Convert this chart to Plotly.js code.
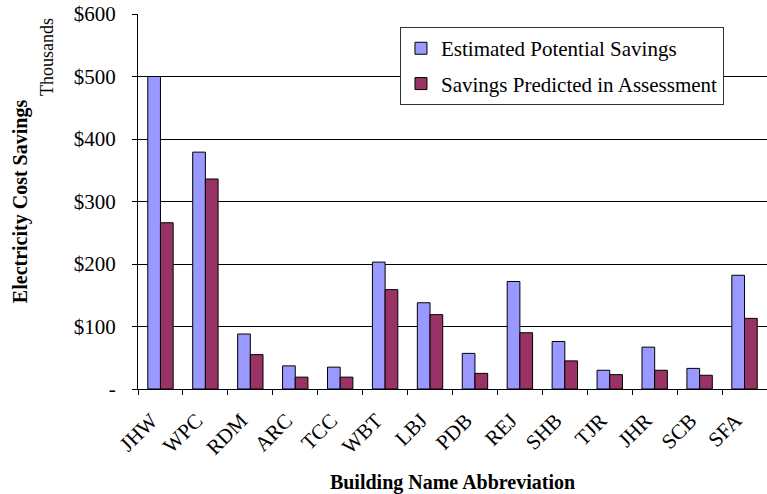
<!DOCTYPE html>
<html>
<head>
<meta charset="utf-8">
<script src="https://cdn.plot.ly/plotly-3.0.1.min.js"></script>
<style>
  html, body { margin: 0; padding: 0; background: #fff; }
  #chart { width: 767px; height: 494px; }
</style>
</head>
<body>
<div id="chart"></div>
<script>
const categories = ['JHW', 'WPC', 'RDM', 'ARC', 'TCC', 'WBT', 'LBJ', 'PDB', 'REJ', 'SHB', 'TJR', 'JHR', 'SCB', 'SFA'];
const estimatedSavings = [500, 379, 88, 37, 35, 203, 138, 57, 172, 76, 30, 67, 33, 182];
const predictedSavings = [266, 336, 55, 19, 19, 159, 119, 25, 90, 45, 23, 30, 22, 113];
const seriesNames = ['Estimated Potential Savings', 'Savings Predicted in Assessment'];
const yTickVals = [0, 100, 200, 300, 400, 500, 600];
const yTickText = ['-', '$100', '$200', '$300', '$400', '$500', '$600'];

const FONT = 'Liberation Serif, Times New Roman, serif';

const traces = [
  {
    type: 'bar', name: seriesNames[0], x: categories, y: estimatedSavings,
    legendgroup: 'a',
    marker: { color: '#9999FF', line: { color: '#000000', width: 1 } }
  },
  {
    type: 'bar', name: seriesNames[1], x: categories, y: predictedSavings,
    legendgroup: 'b',
    marker: { color: '#993366', line: { color: '#000000', width: 1 } }
  }
];

const layout = {
  width: 767, height: 494,
  margin: { l: 138, r: 0, t: 14, b: 105 },
  paper_bgcolor: '#ffffff', plot_bgcolor: '#ffffff',
  font: { family: FONT, size: 21, color: '#000000' },
  barmode: 'group', bargap: 0.435, bargroupgap: 0,
  showlegend: true,
  legend: {
    x: 0.4165, y: 0.965, xanchor: 'left', yanchor: 'top',
    bgcolor: '#ffffff', bordercolor: '#333333', borderwidth: 1,
    font: { family: FONT, size: 21, color: '#000000' },
    traceorder: 'grouped', tracegroupgap: 5,
    entrywidth: 300, entrywidthmode: 'pixels'
  },
  xaxis: {
    type: 'category',
    showgrid: false,
    showline: true, linecolor: '#000000', linewidth: 1,
    ticks: 'outside', tickson: 'boundaries', ticklen: 5, tickcolor: '#000000',
    tickangle: -45,
    ticklabelshift: -9,
    ticklabelstandoff: 10,
    tickfont: { family: FONT, size: 21, color: '#000000' },
    title: { text: '<b>Building Name Abbreviation</b>', font: { family: FONT, size: 20 }, standoff: 30 },
    automargin: false
  },
  yaxis: {
    range: [0, 600],
    tickvals: yTickVals, ticktext: yTickText,
    showgrid: true, gridcolor: '#000000', gridwidth: 1,
    showline: true, linecolor: '#000000', linewidth: 1,
    ticks: 'outside', ticklen: 5, tickcolor: '#000000',
    ticklabelstandoff: 12,
    tickfont: { family: FONT, size: 21, color: '#000000' },
    zeroline: false,
    title: { text: '<b>Electricity Cost Savings</b>', font: { family: FONT, size: 20 }, standoff: 40 },
    automargin: false
  },
  annotations: [
    {
      text: 'Thousands', xref: 'paper', yref: 'paper',
      x: -0.145, y: 0.885, xanchor: 'center', yanchor: 'middle',
      textangle: -90, showarrow: false,
      font: { family: FONT, size: 18, color: '#000000' }
    }
  ]
};

Plotly.newPlot('chart', traces, layout, { displayModeBar: false, staticPlot: true });
</script>
</body>
</html>
